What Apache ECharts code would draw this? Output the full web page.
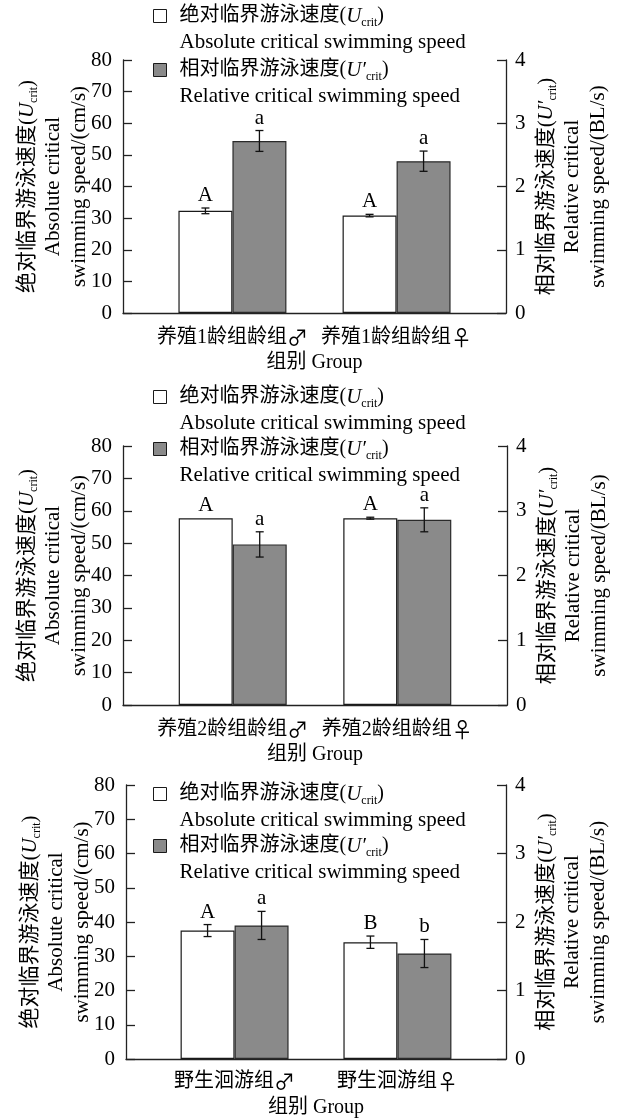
<!DOCTYPE html>
<html><head><meta charset="utf-8">
<script src="https://cdn.jsdelivr.net/npm/echarts@6/dist/echarts.min.js"></script>
<style>html,body{margin:0;padding:0;background:#fff}#c{width:619px;height:1119px}</style>
</head><body><div id="c"></div>
<script>
// ---------- data ----------
const groups1 = ['养殖1龄组龄组♂', '养殖1龄组龄组♀'];
const absSpeed1 = [32.3, 30.8];      // cm/s
const absErr1 = [0.9, 0.4];
const relSpeed1 = [2.72, 2.40];      // BL/s
const relErr1 = [0.165, 0.16];
const absLetters1 = ['A', 'A'];
const relLetters1 = ['a', 'a'];

const groups2 = ['养殖2龄组龄组♂', '养殖2龄组龄组♀'];
const absSpeed2 = [57.7, 57.7];
const absErr2 = [0, 0.3];
const relSpeed2 = [2.48, 2.86];
const relErr2 = [0.195, 0.185];
const absLetters2 = ['A', 'A'];
const relLetters2 = ['a', 'a'];

const groups3 = ['野生洄游组♂', '野生洄游组♀'];
const absSpeed3 = [37.5, 34.1];
const absErr3 = [1.75, 1.8];
const relSpeed3 = [1.95, 1.54];
const relErr3 = [0.205, 0.205];
const absLetters3 = ['A', 'B'];
const relLetters3 = ['a', 'b'];

const leftAxis = {min: 0, max: 80, interval: 10};
const rightAxis = {min: 0, max: 4, interval: 1};
const xAxisTitle = '组别 Group';
const ABS_NAME = '绝对临界游泳速度';
const REL_NAME = '相对临界游泳速度';

// ---------- layout / style ----------
const FONT = "'Liberation Serif','Noto Sans CJK SC','DejaVu Sans',serif";
const SYM_FONT = "'Noto Sans CJK SC','DejaVu Sans',sans-serif";
const SLOT_COUNT = 8;
const SLOT_INDEX = [2, 5];
const BAR_W = 54;
const richBase = (cn) => ({
  cn: {fontFamily: FONT, fontSize: cn, lineHeight: 26, color: '#000'},
  en: {fontFamily: FONT, fontSize: 21, lineHeight: 26, color: '#000'},
  it: {fontFamily: FONT, fontSize: 21, fontStyle: 'italic', lineHeight: 26, color: '#000'},
  sub: {fontFamily: FONT, fontSize: 12, lineHeight: 14, verticalAlign: 'bottom', color: '#000'}
});
const leftName = '{cn|绝对临界游泳速度(}{it|U}{sub|crit}{cn|)}\n{en|Absolute critical}\n{en|swimming speed/(cm/s)}';
const rightName = '{cn|相对临界游泳速度(}{it|U′}{sub|crit}{cn|)}\n{en|Relative critical}\n{en|swimming speed/(BL/s)}';
const legendText = {};
legendText[ABS_NAME] = '{cn|绝对临界游泳速度(}{it|U}{sub|crit}{cn|)}\n{en|Absolute critical swimming speed}';
legendText[REL_NAME] = '{cn|相对临界游泳速度(}{it|U′}{sub|crit}{cn|)}\n{en|Relative critical swimming speed}';

const panels = [
  {groups: groups1, abs: absSpeed1, absErr: absErr1, rel: relSpeed1, relErr: relErr1, absLet: absLetters1, relLet: relLetters1,
   grid: {left: 123, top: 60, width: 383, height: 253}, legendY: [16, 70], labelMargin: 14, nameGap: 40},
  {groups: groups2, abs: absSpeed2, absErr: absErr2, rel: relSpeed2, relErr: relErr2, absLet: absLetters2, relLet: relLetters2,
   grid: {left: 123, top: 446, width: 384, height: 259}, legendY: [397, 449], labelMargin: 14, nameGap: 40},
  {groups: groups3, abs: absSpeed3, absErr: absErr3, rel: relSpeed3, relErr: relErr3, absLet: absLetters3, relLet: relLetters3,
   grid: {left: 126, top: 785, width: 380, height: 274}, legendY: [794, 846], labelMargin: 12, nameGap: 39}
];

const axisLineStyle = {color: '#222', width: 1.3};

function catLabel(v) {
  if (!v) return '';
  const last = v.slice(-1);
  if (last === '♂' || last === '♀') return '{t|' + v.slice(0, -1) + '}{s|' + last + '}';
  return '{t|' + v + '}';
}

function errSeries(xIdx, yIdx, vals, errs, letters, side) {
  return {
    type: 'custom', xAxisIndex: xIdx, yAxisIndex: yIdx, z: 5, silent: true,
    data: vals.map((v, i) => [SLOT_INDEX[i], v - errs[i], v + errs[i]]),
    renderItem(params, api) {
      const lo = api.coord([api.value(0), api.value(1)]);
      const hi = api.coord([api.value(0), api.value(2)]);
      const x = lo[0] + side * BAR_W / 2;
      const cap = 4;
      const st = {stroke: '#111', lineWidth: 1.3};
      const children = [];
      if (lo[1] - hi[1] > 0.8) {
        children.push({type: 'line', shape: {x1: x, y1: lo[1], x2: x, y2: hi[1]}, style: st});
        children.push({type: 'line', shape: {x1: x - cap, y1: lo[1], x2: x + cap, y2: lo[1]}, style: st});
        children.push({type: 'line', shape: {x1: x - cap, y1: hi[1], x2: x + cap, y2: hi[1]}, style: st});
      }
      children.push({type: 'text', style: {text: letters[params.dataIndex], x: x, y: hi[1] - 2,
        align: 'center', verticalAlign: 'bottom', fontFamily: FONT, fontSize: 21, fill: '#000'}});
      return {type: 'group', children};
    }
  };
}

const option = {animation: false, backgroundColor: '#fff', grid: [], xAxis: [], yAxis: [], series: [], legend: []};

panels.forEach((p, k) => {
  option.grid.push(Object.assign({containLabel: false}, p.grid));
  const cats = new Array(SLOT_COUNT).fill('');
  SLOT_INDEX.forEach((s, i) => { cats[s] = p.groups[i]; });
  option.xAxis.push({
    type: 'category', gridIndex: k, data: cats, boundaryGap: false,
    axisLine: {lineStyle: axisLineStyle}, axisTick: {show: false},
    axisLabel: {interval: 0, margin: p.labelMargin, formatter: catLabel,
      rich: {t: {fontFamily: FONT, fontSize: 20, color: '#000'},
             s: {fontFamily: SYM_FONT, fontSize: 21, color: '#000'}}},
    name: xAxisTitle, nameLocation: 'middle', nameGap: p.nameGap, nameMoveOverlap: false,
    nameTextStyle: {fontFamily: FONT, fontSize: 20, color: '#000'}
  });
  option.yAxis.push({
    type: 'value', gridIndex: k, position: 'left', min: leftAxis.min, max: leftAxis.max, interval: leftAxis.interval,
    axisLine: {show: true, lineStyle: axisLineStyle}, axisTick: {show: true, inside: true, length: 9, lineStyle: axisLineStyle},
    axisLabel: {fontFamily: FONT, fontSize: 21, color: '#000', margin: 11}, splitLine: {show: false},
    name: leftName, nameLocation: 'middle', nameRotate: 90, nameGap: 31, nameMoveOverlap: false,
    nameTextStyle: {rich: richBase(21), align: 'center'}
  });
  option.yAxis.push({
    type: 'value', gridIndex: k, position: 'right', min: rightAxis.min, max: rightAxis.max, interval: rightAxis.interval,
    axisLine: {show: true, lineStyle: axisLineStyle}, axisTick: {show: true, inside: true, length: 9, lineStyle: axisLineStyle},
    axisLabel: {fontFamily: FONT, fontSize: 21, color: '#000', margin: 9}, splitLine: {show: false},
    name: rightName, nameLocation: 'middle', nameRotate: 90, nameGap: 27, nameMoveOverlap: false,
    nameTextStyle: {rich: richBase(21), align: 'center'}
  });
  option.series.push({
    type: 'bar', name: ABS_NAME, xAxisIndex: k, yAxisIndex: 2 * k, barWidth: BAR_W, barGap: '0%',
    data: p.abs.map((v, i) => [SLOT_INDEX[i], v]),
    itemStyle: {color: '#ffffff', borderColor: '#1a1a1a', borderWidth: 1.2}
  });
  option.series.push({
    type: 'bar', name: REL_NAME, xAxisIndex: k, yAxisIndex: 2 * k + 1, barWidth: BAR_W, barGap: '0%',
    data: p.rel.map((v, i) => [SLOT_INDEX[i], v]),
    itemStyle: {color: '#8a8a8a', borderColor: '#2a2a2a', borderWidth: 1.2}
  });
  option.series.push(errSeries(k, 2 * k, p.abs, p.absErr, p.absLet, -1));
  option.series.push(errSeries(k, 2 * k + 1, p.rel, p.relErr, p.relLet, 1));
  [[ABS_NAME, '#ffffff'], [REL_NAME, '#8a8a8a']].forEach(([nm, col], j) => {
    option.legend.push({
      data: [nm], left: 153, top: p.legendY[j] - 39, padding: 0, orient: 'vertical',
      icon: 'rect', itemWidth: 13, itemHeight: 13,
      itemStyle: {color: col, borderColor: '#1a1a1a', borderWidth: 1},
      formatter: (name) => legendText[name],
      textStyle: {padding: [26, 0, 0, 8], lineHeight: 26, rich: richBase(20)}
    });
  });
});

const chart = echarts.init(document.getElementById('c'), null, {renderer: 'canvas'});
chart.setOption(option);
</script>
</body></html>
